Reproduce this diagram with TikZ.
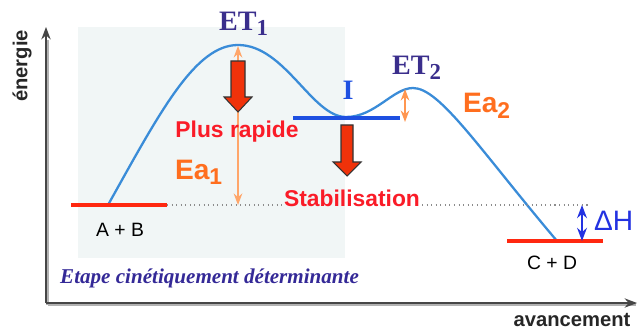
\documentclass[tikz,border=0pt]{standalone}
\usepackage{fontspec}
\setmainfont{Liberation Sans}
\newfontfamily\timesfont{Liberation Serif}
\usepackage{xcolor}
\usepackage{tikz}
\usetikzlibrary{arrows.meta,positioning}
\definecolor{boxgray}{RGB}{241,246,246}
\definecolor{pathblue}{RGB}{58,140,216}
\definecolor{levelred}{RGB}{255,40,16}
\definecolor{interblue}{RGB}{30,80,225}
\definecolor{tsindigo}{RGB}{58,46,140}
\definecolor{eaorange}{RGB}{255,110,30}
\definecolor{eaarrow}{RGB}{255,150,80}
\definecolor{textred}{RGB}{250,28,40}
\definecolor{arrowred}{RGB}{240,50,10}
\definecolor{dhblue}{RGB}{35,50,225}
\definecolor{axisgray}{RGB}{70,70,70}
\newcommand{\sub}[1]{\textsubscript{\fontsize{13}{14}\selectfont #1}}

\begin{document}
\begin{tikzpicture}[x=0.02cm, y=-0.02cm, >=Stealth,
  level/.style={line width=2.2pt, levelred},
  tslabel/.style={tsindigo, font=\timesfont\bfseries\fontsize{16}{18}\selectfont},
  ealabel/.style={eaorange, font=\bfseries\fontsize{16}{18}\selectfont},
  redtext/.style={textred, font=\bfseries\fontsize{13}{15}\selectfont},
  species/.style={font=\fontsize{11}{13}\selectfont},
  bigdown/.style={fill=arrowred, draw=black!80, line width=0.6pt, line join=miter}]

\useasboundingbox (0,0) rectangle (638,334);

% ==========================================
% Shaded zone: rate-determining step
% ==========================================
\fill[boxgray] (78,27) rectangle (345,258);
\node[tsindigo!90!blue, font=\timesfont\bfseries\itshape\fontsize{12}{14}\selectfont, anchor=west] (etape) at (54,278) {Etape cinétiquement déterminante};

% ==========================================
% Axes
% ==========================================
\coordinate (origin) at (46,303);
\coordinate (ytop) at (46,27);
\coordinate (xend) at (637,303);
\draw[black!30, line width=1.2pt] (47.5,304.5) -- (636,304.5);
\draw[black!30, line width=1.2pt] (47.5,304.5) -- (47.5,40);
\draw[->, axisgray, line width=0.9pt] (origin) -- (ytop);
\draw[->, axisgray, line width=0.9pt] (origin) -- (xend);
\node[rotate=90, font=\bfseries\fontsize{11.5}{13}\selectfont, text=black!85] (energie) at (22,66) {énergie};
\node[font=\bfseries\fontsize{11.5}{13}\selectfont, text=black!85] (avancement) at (572,320) {avancement};

% ==========================================
% Reference levels
% ==========================================
\coordinate (ab) at (108,205);
\coordinate (ts1) at (238,45);
\coordinate (inter) at (346,117);
\coordinate (ts2) at (413,88);
\coordinate (cd) at (557,241);

% Reaction path
\draw[pathblue, line width=1.3pt] (ab) .. controls (160,112) and (195,45) .. (ts1)
  .. controls (285,45) and (312,117) .. (inter)
  .. controls (375,117) and (393,88) .. (ts2)
  .. controls (440,88) and (480,150) .. (cd);

% Energy levels
\draw[level] (71,205) -- (167,205);
\draw[level] (507,241) -- (603,241);
\draw[interblue, line width=2pt] (293,118) -- (400,118);

\node[species] (abtext) at (120,230) {A + B};
\node[species] (cdtext) at (552,263) {C + D};

% Transition states and intermediate
\node[tslabel] (et1) at (244,24) {ET\sub{1}};
\node[tslabel] (et2) at (417,68) {ET\sub{2}};
\node[interblue, font=\timesfont\bfseries\fontsize{16}{18}\selectfont] (ilabel) at (348,90) {I};

% ==========================================
% Activation energies
% ==========================================
\coordinate (ea1top) at (238,46);
\coordinate (ea1bot) at (238,205);
\draw[<->, eaarrow!85!white, line width=0.8pt] (ea1top) -- (ea1bot);
\node[ealabel] (ea1) at (199,172) {Ea\sub{1}};

\coordinate (ea2top) at (405,89);
\coordinate (ea2bot) at (405,122);
\draw[<->, eaarrow, line width=0.8pt] (ea2top) -- (ea2bot);
\node[ealabel] (ea2) at (487,106) {Ea\sub{2}};

% Enthalpy change
\coordinate (dhtop) at (582,205);
\coordinate (dhbot) at (582,241);
\draw[<->, dhblue, line width=1pt] (dhtop) -- (dhbot);
\node[dhblue, font=\fontsize{16}{18}\selectfont, anchor=west] (dh) at (588,221) {ΔH};

% ==========================================
% Big red arrows
% ==========================================
\filldraw[bigdown] (231,61) -- (245,61) -- (245,97) -- (252,97) -- (238,112) -- (224,97) -- (231,97) -- cycle;
\node[redtext] (rapide) at (237,132) {Plus rapide};

\filldraw[bigdown] (341,125) -- (353,125) -- (353,162) -- (361,162) -- (347,176) -- (333,162) -- (341,162) -- cycle;
\node[redtext, inner sep=1pt] (stab) at (352,198) {Stabilisation};

% dotted line of the initial level
\draw[dotted, black!45, line width=0.6pt] (167,205) -- (ab -| stab.west);
\draw[dotted, black!45, line width=0.6pt] (ab -| stab.east) -- (590,205);

\end{tikzpicture}
\end{document}
